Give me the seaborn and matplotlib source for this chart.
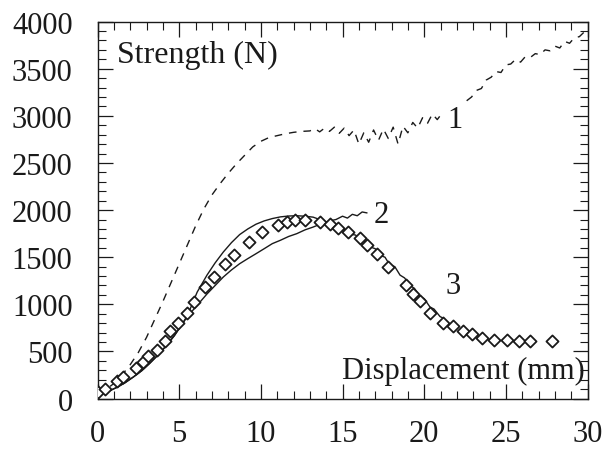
import matplotlib
matplotlib.use("Agg")
import matplotlib.pyplot as plt
import seaborn as sns
from matplotlib.ticker import MultipleLocator

# curve 1 (dashed): smooth rise, then noisy plateau and climb
x1 = [0.0, 0.5, 1.0, 1.5, 2.0, 2.5, 3.0, 3.5, 4.0, 4.5, 5.0, 5.5, 6.0, 6.5,
      7.0, 7.5, 8.0, 8.5, 9.0, 9.5, 10.0, 10.5, 11.0, 11.5, 12.0, 12.5,
      13.0, 13.3, 13.6, 13.9, 14.2, 14.5, 14.8, 15.1, 15.4, 15.7, 16.0, 16.3,
      16.6, 16.9, 17.2, 17.5, 17.8, 18.1, 18.4, 18.7, 19.0, 19.3, 19.6, 19.9,
      20.2, 20.5, 20.8, 21.1,
      22.6, 22.9, 23.2, 23.5,
      23.8, 24.1, 24.4, 24.7, 25.0, 25.3, 25.6, 25.9, 26.2, 26.5, 26.8, 27.1,
      27.4, 27.7, 28.0, 28.3, 28.6, 28.9, 29.2, 29.5, 29.8, 30.0]
y1 = [50, 95, 160, 250, 360, 490, 650, 840, 1030, 1230, 1430, 1630, 1830, 2010,
      2160, 2280, 2390, 2490, 2580, 2670, 2730, 2770, 2790, 2810, 2825, 2835,
      2840, 2865, 2830, 2870, 2835, 2880, 2815, 2870, 2790, 2850, 2700, 2820,
      2720, 2850, 2740, 2860, 2760, 2880, 2700, 2890, 2820, 2930, 2870, 2980,
      2920, 3020, 2960, 3030,
      3160, 3200, 3270, 3290,
      3380, 3410, 3470, 3460, 3540, 3550, 3600, 3570, 3630, 3620, 3660, 3650,
      3700, 3690, 3740, 3720, 3790, 3770, 3830, 3840, 3890, 3870]
gap = 54  # curve 1 is broken where the "1" label sits

# curve 2 (solid, lower branch, ends near x = 16.5)
x2 = [0.0, 0.3, 0.7, 1.2, 1.7, 2.2, 2.7, 3.2, 3.7, 4.2, 4.7, 5.1, 5.5, 6.1,
      6.7, 7.2, 7.7, 8.2, 8.7, 9.2, 9.7, 10.2, 10.7, 11.2, 11.7, 12.2, 12.7,
      13.2, 13.7, 14.2, 14.6, 15.0, 15.3, 15.6, 15.9, 16.2, 16.5]
y2 = [40, 55, 80, 120, 170, 230, 295, 375, 462, 560, 667, 770, 870, 990,
      1110, 1200, 1290, 1365, 1431, 1485, 1537, 1590, 1644, 1680, 1720, 1750,
      1790, 1820, 1855, 1885, 1900, 1935, 1915, 1955, 1940, 1980, 1970]

# curve 3 (solid, upper branch, peaks then falls)
x3 = [0.0, 0.3, 0.7, 1.2, 1.7, 2.2, 2.7, 3.2, 3.7, 4.2, 4.7, 5.1, 5.5, 6.1,
      6.7, 7.2, 7.7, 8.2, 8.7, 9.2, 9.7, 10.2, 10.7, 11.2, 11.7, 12.2, 12.7,
      13.2, 13.6, 14.0, 14.4, 14.85, 15.2, 15.46, 15.8, 16.07, 16.4, 16.69,
      17.0, 17.3, 17.6, 17.9, 18.2, 18.52, 18.8, 19.13, 19.4, 19.75, 20.0,
      20.36, 20.6, 20.97, 21.2]
y3 = [40, 55, 80, 120, 170, 230, 295, 375, 462, 560, 667, 770, 880, 1130,
      1310, 1440, 1555, 1655, 1740, 1800, 1850, 1885, 1910, 1928, 1937, 1940,
      1935, 1925, 1900, 1870, 1840, 1800, 1790, 1745, 1735, 1680, 1665, 1610,
      1590, 1520, 1500, 1415, 1400, 1310, 1280, 1200, 1170, 1080, 1060, 970,
      950, 870, 850]

# diamonds
xd = [0.0, 0.46, 1.18, 1.58, 2.34, 2.80, 3.07, 3.63, 4.13, 4.44, 4.95, 5.46,
      5.93, 6.58, 7.13, 7.81, 8.36, 9.30, 10.09, 11.07, 11.59, 12.09, 12.71,
      13.63, 14.24, 14.75, 15.36, 16.07, 16.52, 17.10, 17.81, 18.89, 19.34,
      19.75, 20.36, 21.18, 21.79, 22.36, 22.91, 23.53, 24.28, 25.06, 25.81,
      26.49, 27.81]
yd = [72, 101, 189, 231, 321, 384, 448, 518, 614, 720, 801, 908, 1028, 1180,
      1293, 1428, 1523, 1665, 1764, 1842, 1877, 1898, 1898, 1877, 1852, 1807,
      1764, 1701, 1629, 1534, 1393, 1205, 1109, 1038, 908, 801, 766, 720, 685,
      642, 624, 621, 614, 607, 614]

sns.set_style("ticks")
plt.rcParams['font.family'] = ['Liberation Serif', 'DejaVu Serif']

fig = plt.figure(figsize=(6.06, 4.52), dpi=100)
ax = fig.add_axes([0.161, 0.116, 0.8085, 0.834])

ink = '#1a1a1a'
dash = (0, (5.5, 5))
sns.lineplot(x=x1[:gap], y=y1[:gap], ax=ax, color=ink, linewidth=1.0, linestyle=dash)
sns.lineplot(x=x1[gap:], y=y1[gap:], ax=ax, color=ink, linewidth=1.0, linestyle=dash)
sns.lineplot(x=x2, y=y2, ax=ax, color=ink, linewidth=1.0)
sns.lineplot(x=x3, y=y3, ax=ax, color=ink, linewidth=1.0)
sns.scatterplot(x=xd, y=yd, ax=ax, marker='D', s=38, color='white',
                edgecolor=ink, linewidth=1.3, zorder=3)

ax.set_xlim(0, 30)
ax.set_ylim(0, 4000)
ax.xaxis.set_major_locator(MultipleLocator(5))
ax.xaxis.set_minor_locator(MultipleLocator(1))
ax.yaxis.set_major_locator(MultipleLocator(500))
ax.yaxis.set_minor_locator(MultipleLocator(100))
ax.tick_params(which='both', direction='in', top=True, right=True,
               color=ink, labelsize=22, labelcolor=ink)
ax.tick_params(which='major', length=11, width=0.9)
ax.tick_params(axis='x', which='major', pad=15)
ax.tick_params(axis='y', which='major', pad=18)
ax.tick_params(which='minor', length=5.5, width=0.8)
for s in ax.spines.values():
    s.set_linewidth(1.0)
    s.set_color(ink)

ax.text(1.2, 3650, 'Strength (N)', fontsize=23, ha='left', va='center', color=ink)
ax.text(29.85, 300, 'Displacement (mm)', fontsize=22, ha='right', va='center', color=ink)
ax.text(21.9, 2960, '1', fontsize=22, ha='center', va='center', color=ink)
ax.text(17.35, 1958, '2', fontsize=22, ha='center', va='center', color=ink)
ax.text(21.75, 1205, '3', fontsize=22, ha='center', va='center', color=ink)

fig.savefig('out.png', dpi=100)
